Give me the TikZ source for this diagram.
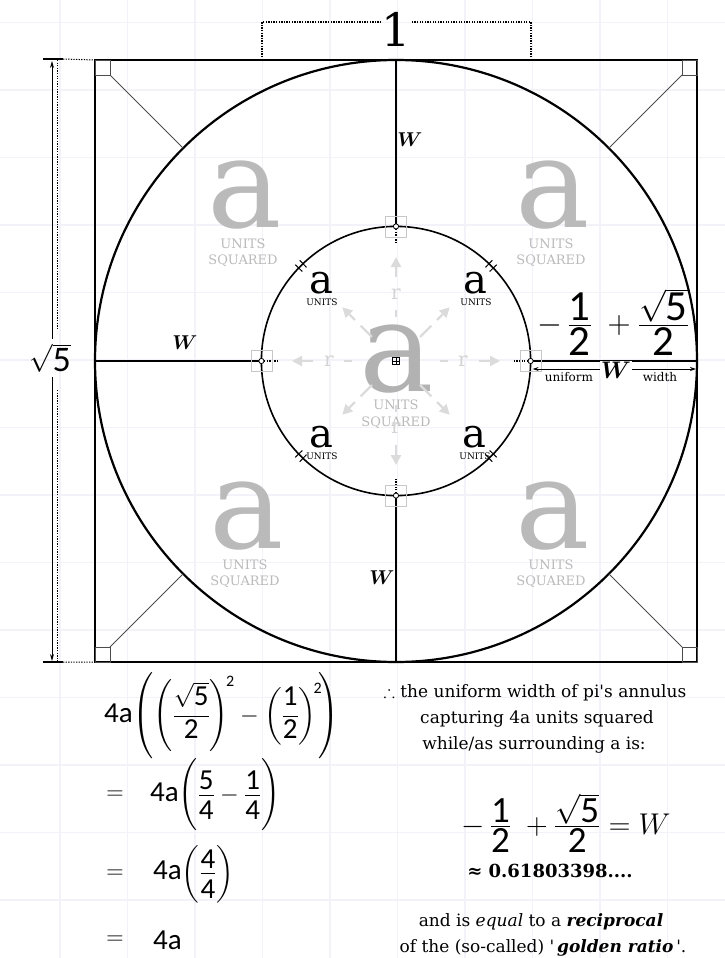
\RequirePackage{fix-cm}
\documentclass[tikz,border=0pt]{standalone}
\usepackage{amssymb}
\usepackage{fontspec}
\setmainfont{DejaVu Serif}
\newfontfamily\txtfont{DejaVu Serif}
\newfontfamily\numfont{Carlito}
\usetikzlibrary{arrows.meta,calc}

\definecolor{gridc}{RGB}{242,242,248}
\newcommand\fsz[1]{\fontsize{#1}{#1}\selectfont}
\def\dsz{27}
\newcommand\nf[1]{\mbox{\numfont\fsz{\dsz}#1}}
\newcommand\sqd{\mbox{\numfont\fsz{16}2}}
\newcommand\bnum[1]{\raisebox{2pt}{\mbox{\numfont\fsz{29}#1}}}
\newcommand\bden[1]{\mbox{\numfont\fsz{29}\rule{0pt}{23pt}#1}}
\newcommand\tallp[2]{\rule[-#1pt]{0pt}{#2pt}}

\begin{document}
\begin{tikzpicture}[
  x=1pt, y=-1pt,
  gridline/.style={gridc, line width=1.6pt},
  frame/.style={line width=1.3pt},
  ring/.style={line width=2.2pt},
  axis/.style={line width=2pt},
  corner/.style={black!70, line width=0.9pt},
  dots/.style={line width=1.3pt, dash pattern=on 1.3pt off 1.3pt},
  dim/.style={line width=0.9pt, -{Stealth[length=7pt,width=4pt]}},
  ghost/.style={text=black!27, inner sep=0pt},
  ghostlbl/.style={text=black!27, font=\fsz{13}, anchor=base, inner sep=0pt},
  unitlbl/.style={font=\fsz{9}, anchor=base, inner sep=0pt},
  rarr/.style={black!14, line width=2.4pt},
  rtip/.style={-{Triangle[length=10pt,width=10pt]}},
  wlbl/.style={font=\boldmath\fsz{20}, inner sep=1pt},
  txt/.style={font=\txtfont\fsz{17}, anchor=base, inner sep=0pt},
  work/.style={anchor=west, inner sep=0pt, font={\fsz{24}\def\dsz{29}}},
]
  \def\Ro{301}
  \def\Ri{134.6}
  \useasboundingbox (0,0) rectangle (725,958);
  % faint background grid
  \foreach \gx in {60,127.5,...,700} {\draw[gridline] (\gx,0) -- (\gx,958);}
  \foreach \gy in {22.5,90,...,958} {\draw[gridline] (0,\gy) -- (725,\gy);}

  \coordinate (O) at (396,361);

  % faded areas: four outer a's and the centre a
  \foreach \px/\py/\n in {245/195/tl, 553/195/tr, 247/516/bl, 553/516/br} {
    \node[ghost, font=\fsz{125}] (ga\n) at (\px,\py) {a};
    \node[ghostlbl] (gu\n) at (\px-2,\py+53) {UNITS};
    \node[ghostlbl] (gs\n) at (\px-2,\py+69) {SQUARED};
  }
  \node[ghost, text=black!30, font=\fsz{125}] (gac) at (397,359) {a};
  \node[ghostlbl] (guc) at (396,409) {UNITS};
  \node[ghostlbl] (gsc) at (396,426) {SQUARED};

  % radius arrows r
  \foreach \a in {0,90,180,270} {
    \coordinate (rs\a) at ($(O)+(\a:44)$);
    \coordinate (rt\a) at ($(O)+(\a:104)$);
    \node[ghost, text=black!17, font=\fsz{20}] (r\a) at ($(O)+(\a:67)$) {r};
    \draw[rarr, shorten >=10pt] (rs\a) -- (r\a);
    \draw[rarr, rtip, shorten <=11pt] (r\a) -- (rt\a);
  }
  \foreach \a in {45,135,225,315} {
    \draw[rarr] ($(O)+(\a:34)$) -- ($(O)+(\a:50)$);
    \draw[rarr, rtip] ($(O)+(\a:58)$) -- ($(O)+(\a:76)$);
  }
  % centre mark
  \draw[line width=0.7pt] ($(O)+(-3.5,-3.5)$) rectangle ($(O)+(3.5,3.5)$);
  \draw[line width=0.6pt] ($(O)+(-3.5,0)$) -- ($(O)+(3.5,0)$) ($(O)+(0,-3.5)$) -- ($(O)+(0,3.5)$);

  % square, circles
  \draw[frame] ($(O)+(-\Ro,-\Ro)$) rectangle ($(O)+(\Ro,\Ro)$);
  \draw[ring] (O) circle[radius=\Ro];
  \draw[line width=1.6pt] (O) circle[radius=\Ri];

  % corner boxes and diagonals
  \foreach \dx/\dy [count=\i] in {-1/-1, 1/-1, -1/1, 1/1} {
    \coordinate (k\i) at ($(O)+(\dx*\Ro,\dy*\Ro)$);
    \coordinate (kb\i) at ($(k\i)+(-\dx*15,-\dy*15)$);
    \coordinate (kc\i) at ($(O)+(\dx*212.8,\dy*212.8)$);
    \draw[corner] (k\i) rectangle (kb\i);
    \draw[corner] (kb\i) -- (kc\i);
  }

  % ticks on the inner circle
  \foreach \a in {45,135,225,315} {
    \foreach \t in {-1.3,1.3} {
      \draw[line width=1pt] ($(O)+(\a+\t:129.5)$) -- ($(O)+(\a+\t:139.5)$);
    }
  }

  % axes from outer to inner circle
  \foreach \dx/\dy/\n in {0/-1/t, -1/0/l, 1/0/r, 0/1/b} {
    \coordinate (out\n) at ($(O)+(\dx*\Ro,\dy*\Ro)$);
    \coordinate (in\n) at ($(O)+(\dx*\Ri,\dy*\Ri)$);
    \coordinate (dt\n) at ($(O)+(\dx*118,\dy*118)$);
    \draw[axis] (out\n) -- (in\n);
    \draw[dots] (in\n) -- (dt\n);
    \draw[black!22, line width=0.8pt] ($(in\n)+(-10.5,-10.5)$) rectangle ($(in\n)+(10.5,10.5)$);
    \draw[fill=white, line width=0.8pt] (in\n) circle[radius=2.6];
  }

  % inner a labels
  \foreach \px/\py/\n in {321/283/tl, 475/283/tr, 321/437/bl, 474/437/br} {
    \node[font=\fsz{40}, inner sep=0pt] (a\n) at (\px,\py) {a};
    \node[unitlbl] (u\n) at (\px+1,\py+22) {UNITS};
  }

  % W labels
  \node[wlbl] (wtop) at (410,140) {$W$};
  \node[wlbl] (wleft) at (185,343) {$W$};
  \node[wlbl] (wbot) at (382,578) {$W$};

  % uniform width on the right
  \coordinate (wa) at ($(inr)+(2,8)$);
  \coordinate (wb) at ($(outr)+(-1,8)$);
  \draw[line width=0.9pt, {Stealth[length=6pt,width=4pt]}-{Stealth[length=6pt,width=4pt]}] (wa) -- (wb);
  \node[font=\fsz{12}, anchor=base, inner sep=0pt] (wu) at (569,381) {uniform};
  \node[font=\boldmath\fsz{24}, fill=white, inner sep=1pt] (ww) at (616,370) {$W$};
  \node[font=\fsz{12}, anchor=base, inner sep=0pt] (wd) at (660,381) {width};
  \node[font={\fsz{32}\def\dsz{43}}, inner sep=0pt] (wval) at (613,322)
    {$-\,\frac{\nf{1}}{\nf{2}}\;+\frac{\sqrt{\nf{5}}}{\nf{2}}$};

  % top dimension 1
  \node[font=\fsz{46}, inner sep=0pt] (one) at (396,29) {1};
  \coordinate (ol) at (262,22);
  \coordinate (or) at (531,22);
  \draw[dots] (ol |- outt) -- (ol) -- (one.west |- ol);
  \draw[dots] (or |- outt) -- (or) -- (one.east |- or);

  % left dimension sqrt 5
  \node[font={\fsz{28}\def\dsz{36}}, inner sep=0pt] (rt5) at (50,358) {$\sqrt{\nf{5}}$};
  \coordinate (dtop) at (52,61);
  \coordinate (dbot) at (52,661);
  \draw[dim] (rt5.north -| dtop) ++(0,-4) -- (dtop);
  \draw[dim] (rt5.south -| dbot) ++(0,4) -- (dbot);
  \draw[dots, line width=1pt] (57,60) -- (57,330) (57,390) -- (57,662);
  \draw[line width=2pt] (43,59) -- (63,59) (43,662) -- (63,662);
  \draw[dots, line width=1pt] (63,59) -- (k1) (63,662) -- (k3);

  % working, bottom left
  \node[work] (eq1) at (104,716)
    {$\nf{4a}\!\left(\!\tallp{30}{42}\left(\tallp{21}{33}{\displaystyle\frac{\sqrt{\nf{5}}}{\nf{2}}}\right)^{\!\sqd} - \left(\tallp{21}{33}{\displaystyle\frac{\nf{1}}{\nf{2}}}\right)^{\!\sqd}\!\right)$};
  \node[work, anchor=center] (eq2s) at (115,795) {$=$};
  \node[work] (eq2) at (150,795)
    {$\nf{4a}\!\left(\tallp{29}{41}\frac{\bnum{5}}{\bden{4}} - \frac{\bnum{1}}{\bden{4}}\right)$};
  \node[work, anchor=center] (eq3s) at (115,874) {$=$};
  \node[work] (eq3) at (153,874) {$\nf{4a}\!\left(\tallp{23}{35}\frac{\bnum{4}}{\bden{4}}\right)$};
  \node[work, anchor=center] (eq4s) at (115,940) {$=$};
  \node[work] (eq4) at (153,940) {\nf{4a}};

  % conclusion, bottom right
  \node[txt] (c1) at (535,697) {$\therefore$ the uniform width of pi's annulus};
  \node[txt] (c2) at (537,723) {capturing 4a units squared};
  \node[txt] (c3) at (534,749) {while/as surrounding a is:};
  \node[font={\fsz{30}\def\dsz{37}}, inner sep=0pt] (weq) at (566,823)
    {$-\,\frac{\nf{1}}{\nf{2}}\;+\frac{\sqrt{\nf{5}}}{\nf{2}} = W$};
  \node[font=\txtfont\fsz{18}\bfseries, inner sep=0pt] (approx) at (550,871) {≈ 0.61803398....};
  \node[txt] (c4) at (541,926) {and is \textit{equal} to a \textbf{\textit{reciprocal}}};
  \node[txt] (c5) at (543,952) {of the (so-called) '\,\textbf{\textit{golden ratio}}\,'.};
\end{tikzpicture}
\end{document}
